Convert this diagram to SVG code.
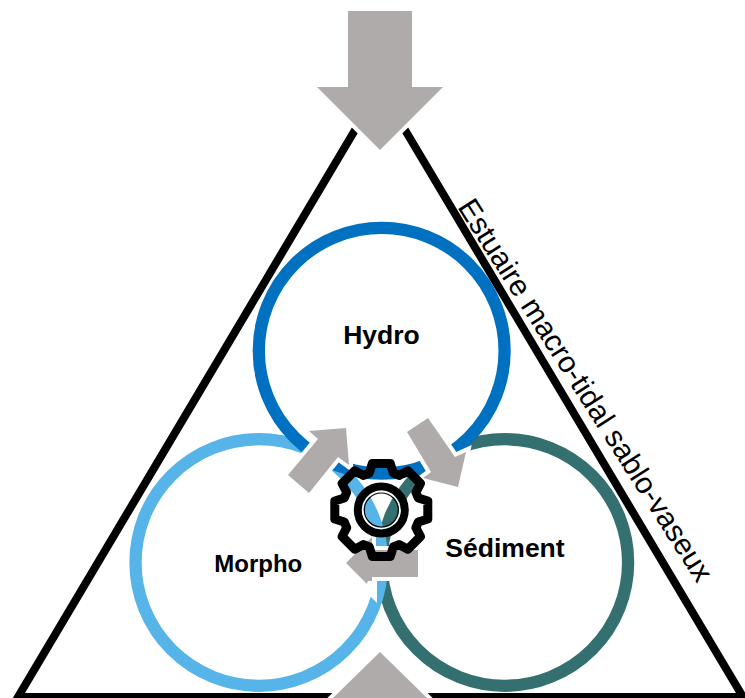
<svg xmlns="http://www.w3.org/2000/svg" width="745" height="698" viewBox="0 0 745 698">
<style>
.arrow{fill:#AFABAB;stroke:#fff;stroke-width:8;paint-order:stroke}
.ring{fill:none;stroke-width:12.3}
.lbl{font-family:"Liberation Sans",Arial,sans-serif;font-weight:bold;fill:#000;text-anchor:middle}
.edge{fill:none;stroke:#000;stroke-width:8}
</style>
<rect width="745" height="698" fill="#fff"/>
<g id="triangle">
<path class="edge" d="M380 88L18 697H743Z" stroke-linejoin="miter"/>
</g>
<g id="sediment"><circle class="ring" cx="504.8" cy="562.5" r="123.3" stroke="#357070"/></g>
<g id="morpho"><circle class="ring" cx="258.8" cy="562.5" r="123.3" stroke="#56B4E9"/></g>
<g id="hydro"><circle class="ring" cx="381.7" cy="350.7" r="122.9" stroke="#0070C0"/></g>
<g id="connectors">
<path class="arrow" d="M348 11H412V87H443L380 150L317 87H348Z"/>
<path class="arrow" d="M380 652L427 698H333Z"/>
<path class="arrow" d="M288 475L318 439L309 431L346 428L349 465L338 457L309 493Z"/>
<path class="arrow" d="M407 432L428 418L455 457L466 452L458 487L423 478L431 472Z"/>
<path class="arrow" d="M346 563L372 537V550H418V577H372V589Z"/>
<path fill="#fff" d="M364 590L377 603V581H368Z"/>
</g>
<g id="gear" transform="translate(381.3 510)" fill="none" stroke="#000" stroke-linejoin="round">
<path stroke-width="9" d="M-12 -37L-9 -46.5H9L12 -37L17.7 -34.6L26.5 -39.2L39.2 -26.5L34.6 -17.7L37 -12L46.5 -9V9L37 12L34.6 17.7L39.2 26.5L26.5 39.2L17.7 34.6L12 37L9 46.5H-9L-12 37L-17.7 34.6L-26.5 39.2L-39.2 26.5L-34.6 17.7L-37 12L-46.5 9V-9L-37 -12L-34.6 -17.7L-39.2 -26.5L-26.5 -39.2L-17.7 -34.6Z"/>
<circle r="23.5" stroke-width="8"/>
<circle r="18.5" stroke="#fff" stroke-width="1.5"/>
<circle r="17" stroke-width="1.2"/>
</g>
<g id="labels">
<text class="lbl" x="381.5" y="344" font-size="26.5">Hydro</text>
<text class="lbl" x="258.3" y="571.7" font-size="24">Morpho</text>
<text class="lbl" x="505" y="556.7" font-size="26.5">Sédiment</text>
<text font-family="'Liberation Sans',Arial,sans-serif" font-size="29.7" fill="#000" transform="translate(457 207) rotate(57.5)">Estuaire macro-tidal sablo-vaseux</text>
</g>
</svg>
